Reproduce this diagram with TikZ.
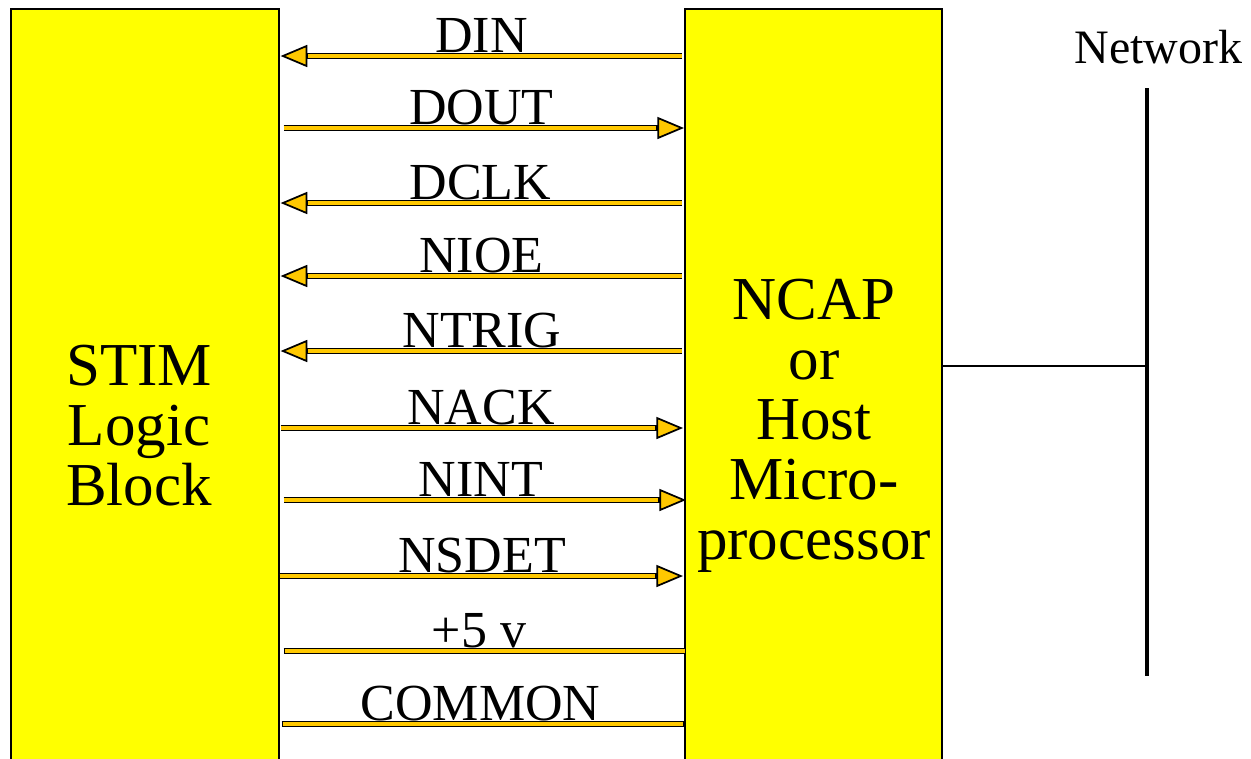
\documentclass[tikz,border=0pt]{standalone}
\usepackage{fontspec}
\setmainfont{Liberation Serif}
\usetikzlibrary{arrows.meta,calc}
\definecolor{boxyellow}{RGB}{255,255,0}
\definecolor{sigorange}{RGB}{255,200,0}
\tikzset{
  box/.style={draw=black, line width=1.2pt, fill=boxyellow, inner sep=0pt, anchor=north west},
  bigtxt/.style={font=\fontsize{45.75}{45}\selectfont, align=center, inner sep=0pt},
  lbl/.style={font=\fontsize{39}{45}\selectfont, inner sep=0pt, anchor=base},
  sigouter/.style={line width=5pt, draw=black, -{Triangle[length=20pt,width=16.5pt,fill=sigorange,line width=1.3pt]}},
  siginner/.style={line width=2.8pt, draw=sigorange, shorten >=20.8pt},
  wireouter/.style={line width=5pt, draw=black},
  wireinner/.style={line width=2.8pt, draw=sigorange, shorten >=1.1pt, shorten <=1.1pt},
}
\newcommand\sigarrow[2]{%
  \draw[sigouter] #1 -- #2;
  \draw[siginner] #1 -- #2;}
\newcommand\sigwire[2]{%
  \draw[wireouter] #1 -- #2;
  \draw[wireinner] #1 -- #2;}
\begin{document}
\begin{tikzpicture}[x=0.75pt,y=-0.75pt]
\useasboundingbox[fill=white] (0,0) rectangle (1251,758);
% boxes
\node[box, minimum width=201pt, minimum height=594pt] (stim) at (10,8) {};
\node[box, minimum width=192.75pt, minimum height=594pt] (ncap) at (684,8) {};
\node[bigtxt] (stimtxt) at (139,426) {STIM\\Logic\\Block};
\node[bigtxt] (ncaptxt) at (814,425.5) {NCAP\\or\\Host\\Micro-\\processor};
% labels
\node[lbl] (din)    at (481.5,52)  {DIN};
\node[lbl] (dout)   at (481.5,124) {DOUT};
\node[lbl] (dclk)   at (480.5,199) {DCLK};
\node[lbl] (nioe)   at (481.5,272) {NIOE};
\node[lbl] (ntrig)  at (482,347)   {NTRIG};
\node[lbl] (nack)   at (481,424)   {NACK};
\node[lbl] (nint)   at (481,496)   {NINT};
\node[lbl] (nsdet)  at (482,572)   {NSDET};
\node[lbl] (p5v)    at (479,647)   {+5 v};
\node[lbl] (common) at (480.5,720) {COMMON};
% connectors
\sigarrow{($(ncap.west|-din.base)+(-2,4)$)}{($(stim.east|-din.base)+(1,4)$)}
\sigarrow{($(stim.east|-dout.base)+(4,4)$)}{($(ncap.west|-dout.base)+(0,4)$)}
\sigarrow{($(ncap.west|-dclk.base)+(-2,4)$)}{($(stim.east|-dclk.base)+(1,4)$)}
\sigarrow{($(ncap.west|-nioe.base)+(-2,4)$)}{($(stim.east|-nioe.base)+(1,4)$)}
\sigarrow{($(ncap.west|-ntrig.base)+(-2,4)$)}{($(stim.east|-ntrig.base)+(1,4)$)}
\sigarrow{($(stim.east|-nack.base)+(1,4)$)}{($(ncap.west|-nack.base)+(-1,4)$)}
\sigarrow{($(stim.east|-nint.base)+(4,4)$)}{($(ncap.west|-nint.base)+(2,4)$)}
\sigarrow{($(stim.east|-nsdet.base)+(0,4)$)}{($(ncap.west|-nsdet.base)+(-1,4)$)}
\sigwire{($(stim.east|-p5v.base)+(4,4)$)}{($(ncap.west|-p5v.base)+(2,4)$)}
\sigwire{($(stim.east|-common.base)+(2,4)$)}{($(ncap.west|-common.base)+(0,4)$)}
% network
\node[font=\fontsize{36}{43}\selectfont, inner sep=0pt, anchor=base] (nettxt) at (1158.5,63) {Network};
\coordinate (bustop) at (1147,88);
\coordinate (busbot) at (1147,676);
\coordinate (tap) at (1147,366);
\draw[line width=2.3pt] (bustop) -- (busbot);
\draw[line width=1.1pt] (ncap.east|-tap) -- (tap);
\end{tikzpicture}
\end{document}
